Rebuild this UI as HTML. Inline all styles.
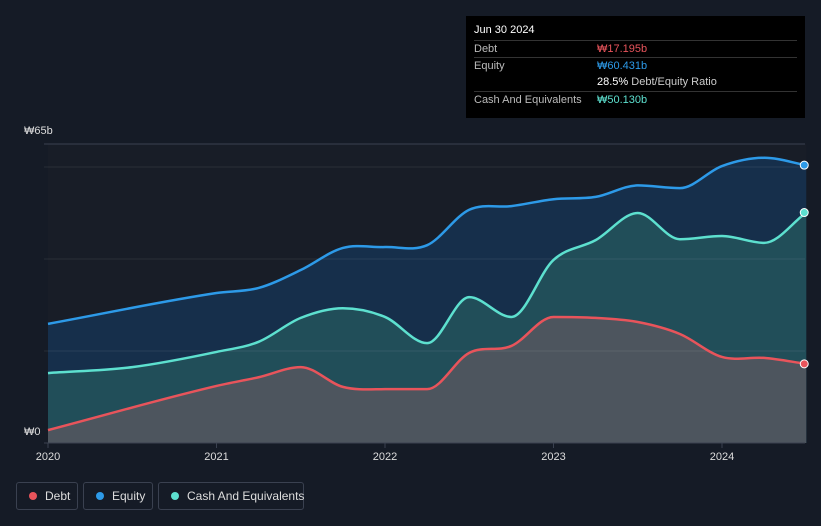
<!DOCTYPE html>
<html><head><meta charset="utf-8"><style>
html,body{margin:0;background:#151b26;width:821px;height:526px;overflow:hidden;font-family:"Liberation Sans",sans-serif}
svg{position:absolute;left:0;top:0}
.tip{position:absolute;left:466px;top:16px;width:339px;height:102px;background:#000;color:#fff;font-size:11px}
.row{position:absolute;left:8px;right:8px;height:17px;border-top:1px solid #333;line-height:17px;color:#bbb}
.row span{position:absolute;left:123px}
.leg{position:absolute;top:482px;height:28px;border:1px solid #3a4150;border-radius:3px;color:#ddd;font-size:12px;line-height:26px;box-sizing:border-box;padding-left:28px;white-space:nowrap}
.leg i{position:absolute;left:12px;top:9px;width:8px;height:8px;border-radius:50%}
</style></head><body>
<svg width="821" height="526" id="chart"></svg>
<div class="tip">
<div style="position:absolute;left:8px;top:8px;font-size:11px">Jun 30 2024</div>
<div class="row" style="top:24px">Debt<span style="color:#e8545b">₩17.195b</span></div>
<div class="row" style="top:41px">Equity<span style="color:#2d9ae8">₩60.431b</span></div>
<div class="row" style="top:58px;border-top:none"><span style="color:#ccc"><b style="color:#fff;font-weight:normal">28.5%</b> Debt/Equity Ratio</span></div>
<div class="row" style="top:75px">Cash And Equivalents<span style="color:#5de0cf">₩50.130b</span></div>
</div>
<div class="leg" style="left:16px;width:62px"><i style="background:#e8545b"></i>Debt</div>
<div class="leg" style="left:83px;width:70px"><i style="background:#2d9ae8"></i>Equity</div>
<div class="leg" style="left:158px;width:146px"><i style="background:#5de0cf"></i>Cash And Equivalents</div>
<script>
const eqX=[2020,2021,2021.25,2021.5,2021.75,2022,2022.25,2022.5,2022.75,2023,2023.25,2023.5,2023.75,2024,2024.25,2024.5];
const eqV=[25.9,32.6,33.7,37.6,42.4,42.6,43,50.7,51.5,53,53.5,56,55.4,60.2,62,60.4];
const cashX=[2020,2020.5,2021,2021.25,2021.5,2021.75,2022,2022.25,2022.5,2022.75,2023,2023.25,2023.5,2023.75,2024,2024.25,2024.5];
const cashV=[15.2,16.5,19.8,22,27.2,29.3,27.4,21.7,31.7,27.4,39.8,44.1,50,44.3,45,43.5,50.1];
const debtX=[2020,2021,2021.25,2021.5,2021.75,2022,2022.25,2022.5,2022.75,2023,2023.25,2023.5,2023.75,2024,2024.25,2024.5];
const debtV=[2.8,12.4,14.3,16.5,12.2,11.7,11.7,19.6,21.1,27.4,27.2,26.3,23.7,18.7,18.5,17.2];
const yTicks=[0,65];const yLabels=["₩0","₩65b"];
const xTicks=[2020,2021,2022,2023,2024];
const sx=t=>48+(t-2020)*168.5, sy=v=>443-v*4.6;
const svg=document.getElementById('chart'),NS='http://www.w3.org/2000/svg';
function mk(tag,a,name){const e=document.createElementNS(NS,tag);for(const k in a)e.setAttribute(k,a[k]);


svg.appendChild(e);return e;}
function path(xs,vs){const p=xs.map((x,i)=>[sx(x),sy(vs[i])]);const n=p.length;const m=[];
const d=[];for(let i=0;i<n-1;i++)d.push((p[i+1][1]-p[i][1])/(p[i+1][0]-p[i][0]));
for(let i=0;i<n;i++){if(i==0)m.push(d[0]);else if(i==n-1)m.push(d[n-2]);else m.push(d[i-1]*d[i]<=0?0:(d[i-1]+d[i])/2);}
let s='M'+p[0][0]+','+p[0][1];for(let i=0;i<n-1;i++){const h=(p[i+1][0]-p[i][0])/3;
s+=`C${p[i][0]+h},${p[i][1]+m[i]*h} ${p[i+1][0]-h},${p[i+1][1]-m[i+1]*h} ${p[i+1][0]},${p[i+1][1]}`;}return s;}
mk('rect',{x:48,y:144,width:sx(2024.5)-48,height:299,fill:'#181d27'},'plot-bg');
mk('line',{x1:44,x2:805,y1:144,y2:144,stroke:'#3a4150'},'top-line');
const series=[[eqX,eqV,'#2d9ae8','#16304d','equity'],[cashX,cashV,'#5de0cf','#22505a','cash'],[debtX,debtV,'#e8545b','#50555f','debt']];
series.forEach(([xs,vs,c,f,n])=>{const d=path(xs,vs);
mk('path',{d:d+`L${sx(xs[xs.length-1])},443L${sx(xs[0])},443Z`,fill:f,'fill-opacity':0.95},n+'-area');});
[20,40,60].forEach(v=>mk('line',{x1:44,x2:805,y1:sy(v),y2:sy(v),stroke:'#ffffff','stroke-opacity':0.08},'gridline'));
mk('line',{x1:44,x2:805,y1:443,y2:443,stroke:'#3a4150'},'x-axis');
series.forEach(([xs,vs,c,f,n])=>{mk('path',{d:path(xs,vs),fill:'none',stroke:c,'stroke-width':2.5},n+'-line');
mk('circle',{cx:sx(xs[xs.length-1])-2,cy:sy(vs[vs.length-1]),r:4,fill:c,stroke:'#fff','stroke-width':1},n+'-end-dot');});
yTicks.forEach((v,i)=>{const t=mk('text',{x:24,y:v?134:435,fill:'#ddd','font-size':11},'y-label');t.textContent=yLabels[i];});
xTicks.forEach(v=>{mk('line',{x1:sx(v),x2:sx(v),y1:443,y2:448,stroke:'#3a4150'},'x-tick');
const t=mk('text',{x:sx(v),y:460,fill:'#ddd','font-size':11,'text-anchor':'middle'},'x-label');t.textContent=v;});
</script>
</body></html>
